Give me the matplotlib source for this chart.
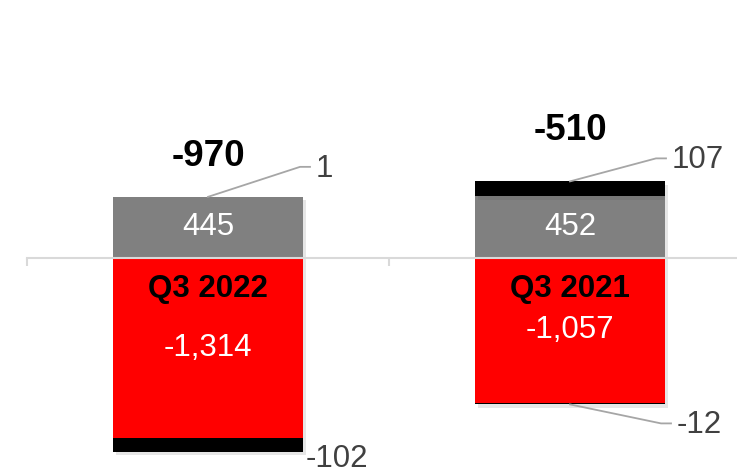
import numpy as np
import matplotlib
matplotlib.use('Agg')
import matplotlib.pyplot as plt
import matplotlib.patheffects as pe
from matplotlib.lines import Line2D

plt.rcParams['font.family'] = ['Liberation Sans', 'DejaVu Sans']

categories = ['Q3 2022', 'Q3 2021']
gray_vals = [445, 452]
black_pos = [1, 107]
red_vals = [-1314, -1057]
black_neg = [-102, -12]
totals = [-970, -510]

fig = plt.figure(figsize=(7.37, 4.74), dpi=100)
ax = fig.add_axes([27 / 737, 0, 724 / 737, 1])
ax.set_xlim(-0.5, 1.5)
ax.set_ylim(-1577, 1883)

x = np.arange(len(categories))
w = 0.525
shadow = [pe.SimplePatchShadow(offset=(2.5, -2.5), alpha=0.13, shadow_rgbFace='#444444'), pe.Normal()]

gray = np.array(gray_vals)
bpos = np.array(black_pos)
red = np.array(red_vals)
bneg = np.array(black_neg)

bars = []
bars += list(ax.bar(x, gray, w, color='#808080', zorder=2))
bars += list(ax.bar(x, bpos, w, bottom=gray, color='#000000', zorder=2))
bars += list(ax.bar(x, red, w, color='#ff0000', zorder=2))
bars += list(ax.bar(x, bneg, w, bottom=red, color='#000000', zorder=2))
for b in bars:
    b.set_path_effects(shadow)

# zero line with category ticks
for s in ['top', 'right', 'left']:
    ax.spines[s].set_visible(False)
ax.spines['bottom'].set_position(('data', 0))
ax.spines['bottom'].set_color('#d9d9d9')
ax.spines['bottom'].set_linewidth(1.5)
ax.spines['bottom'].set_zorder(3)
ax.set_xticks([-0.5, 0.5, 1.5])
ax.set_xticklabels([])
ax.tick_params(axis='x', length=6, width=1.5, color='#d9d9d9', direction='out')
ax.set_yticks([])

fs = 22.5
for i in range(len(categories)):
    ax.text(x[i], gray[i] / 2, f'{gray[i]:,}', ha='center', va='center',
            color='white', fontsize=fs, zorder=4)
    ax.text(x[i], red[i] / 2, f'{red[i]:,}', ha='center', va='center',
            color='white', fontsize=fs, zorder=4)
    ax.text(x[i], -225, categories[i], ha='center', va='center',
            color='black', fontsize=fs, fontweight='bold', zorder=4)

# totals above stacks (pixel offsets)
tot_off = [40, 51]
for i in range(len(categories)):
    ax.annotate(f'{totals[i]:,}', (x[i], gray[i] + bpos[i]), xytext=(0, tot_off[i]),
                textcoords='offset pixels', ha='center', va='center',
                fontsize=26.5, fontweight='bold', color='black')

# leader labels
lead_col = '#a6a6a6'
txt_col = '#404040'
fig.canvas.draw()


def leader(xd, yd, dx, dy, label):
    px, py = ax.transData.transform((xd, yd))
    ex, ey = px + dx, py + dy
    line = Line2D([px, ex, ex + 10], [py, ey, ey], color=lead_col, lw=1.3,
                  transform=None, figure=fig)
    fig.lines.append(line)
    fig.text((ex + 16) / 737, (ey - 2) / 474, label, ha='left', va='center',
             fontsize=fs, color=txt_col)


leader(x[0], gray[0] + bpos[0], 92, 30, f'{bpos[0]:,}')
leader(x[1], gray[1] + bpos[1], 86, 23, f'{bpos[1]:,}')
leader(x[1], red[1] + bneg[1], 91, -19, f'{bneg[1]:,}')

# -102 label without leader
px, py = ax.transData.transform((x[0] + w / 2, red[0] + bneg[0]))
fig.text((px + 3) / 737, (py - 7) / 474, f'{bneg[0]:,}', ha='left', va='center',
         fontsize=fs, color=txt_col)

fig.savefig('out.png', dpi=100)
